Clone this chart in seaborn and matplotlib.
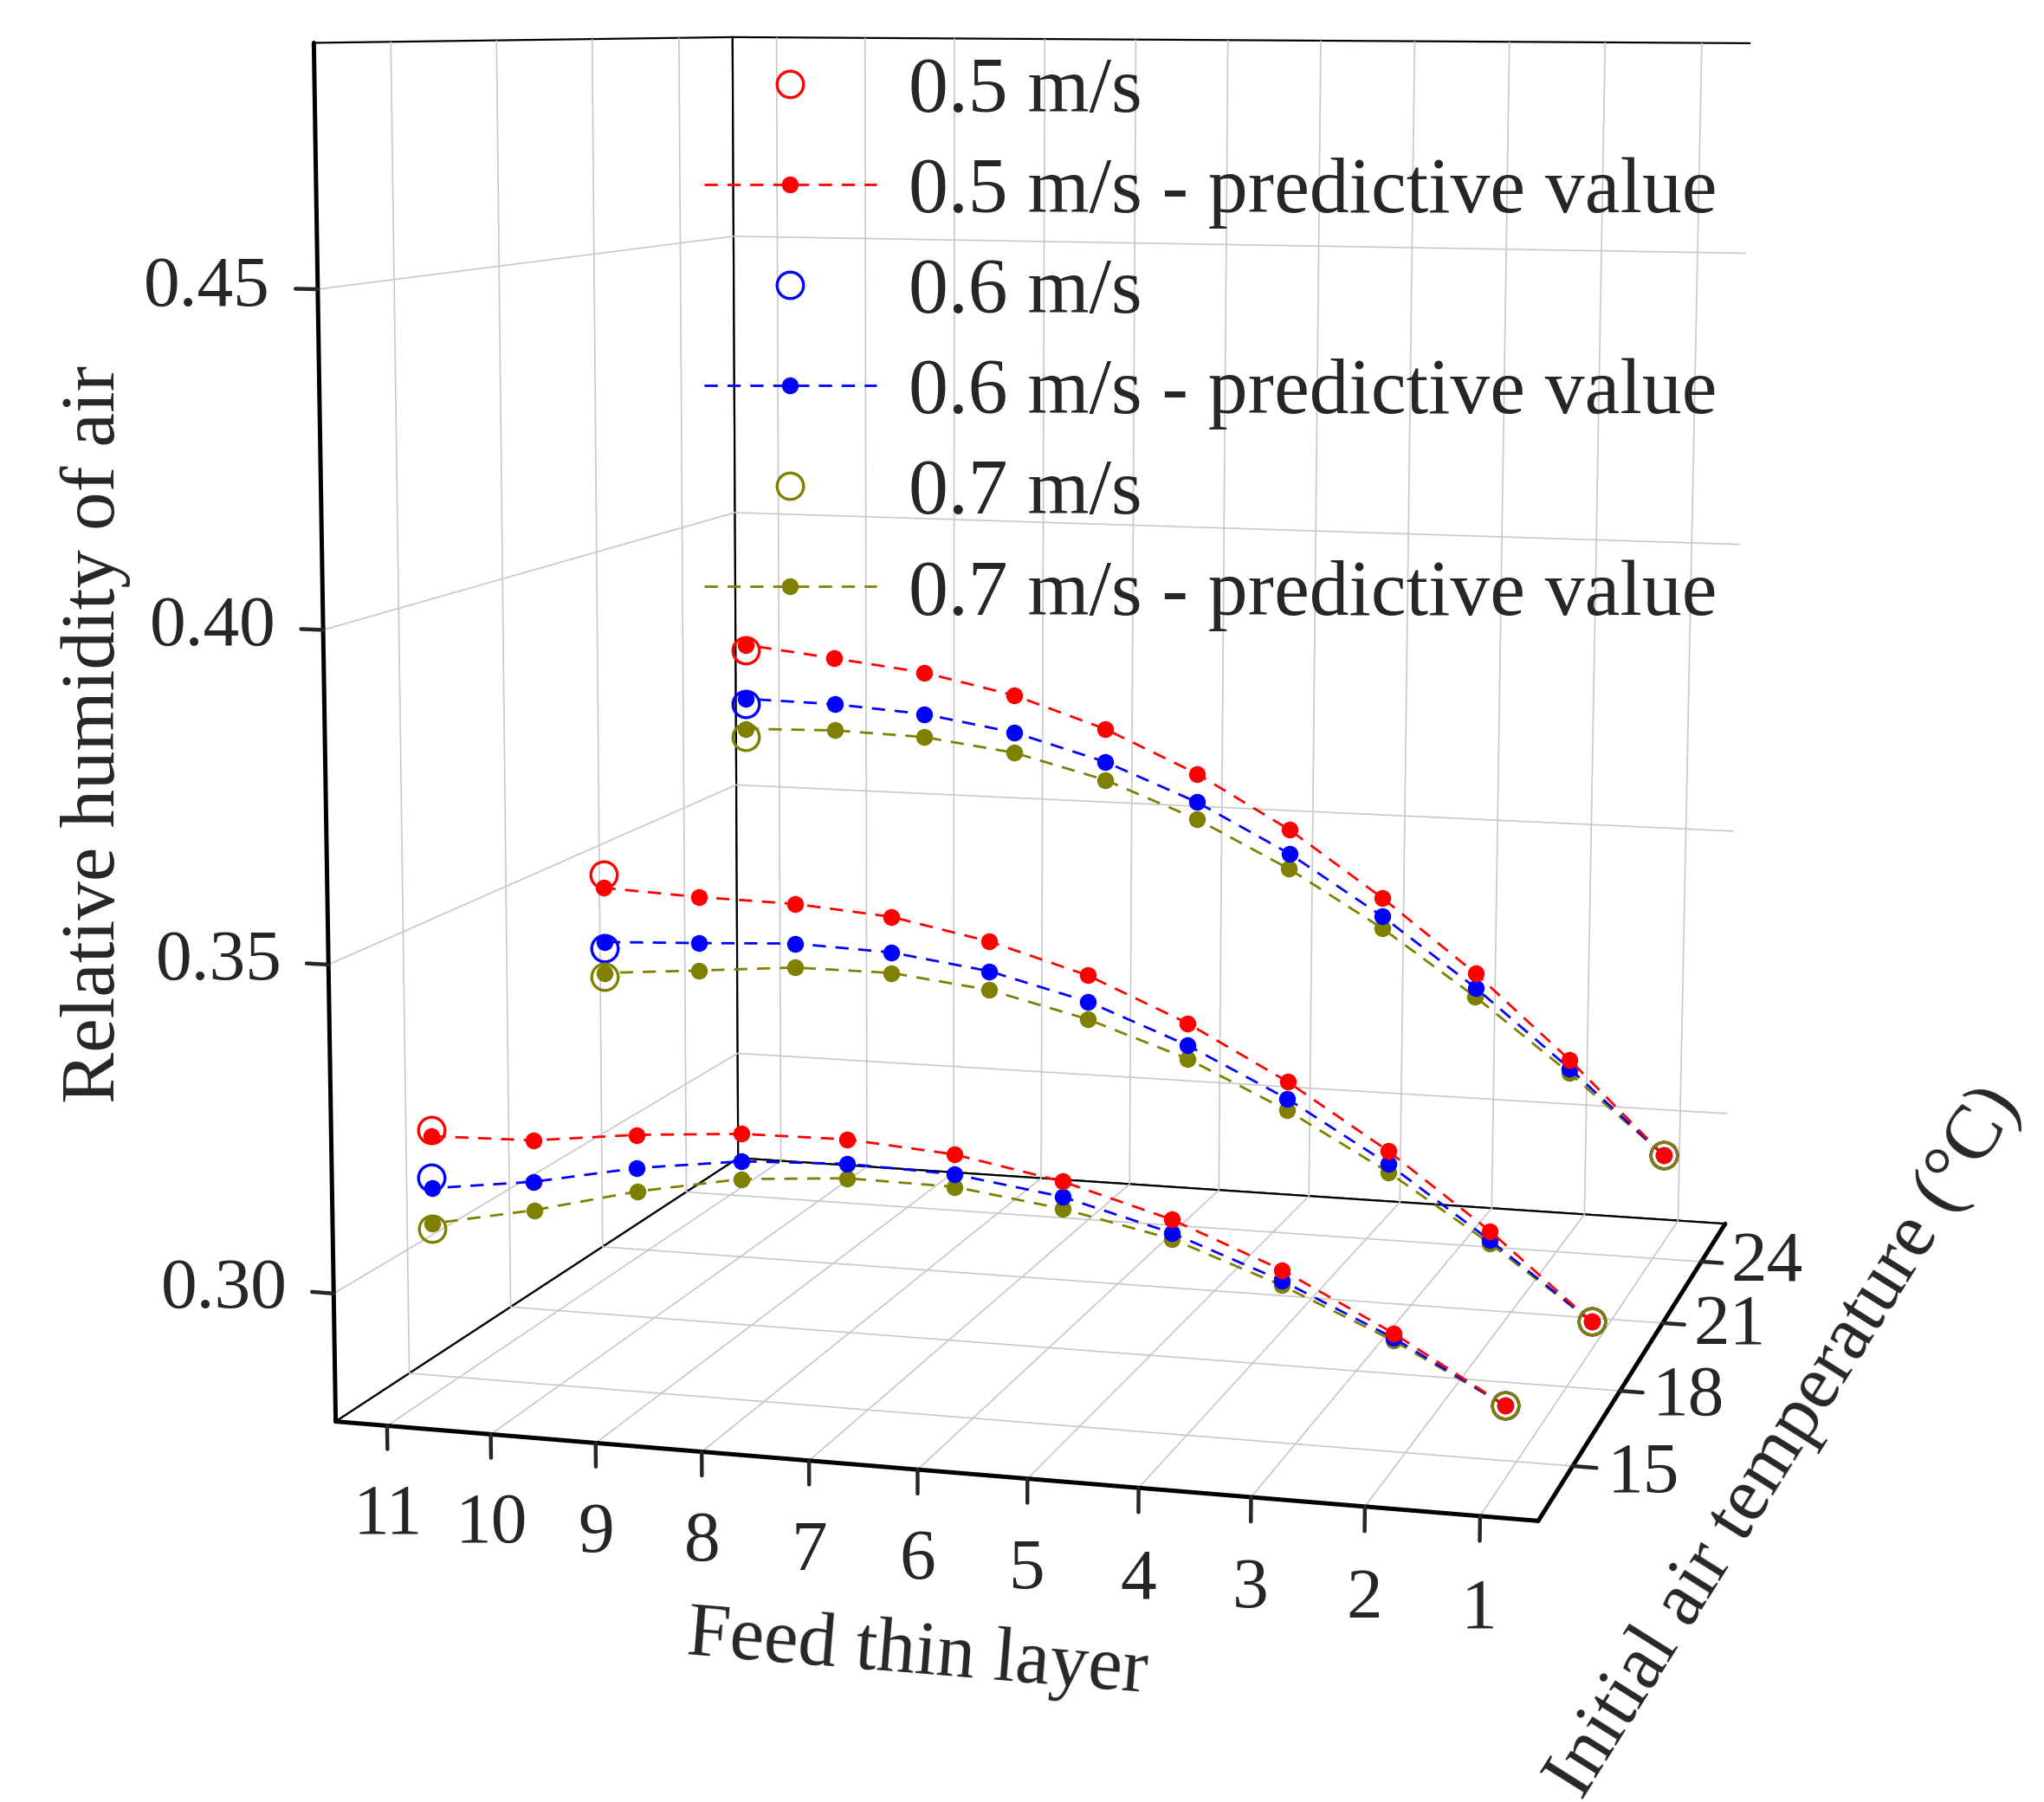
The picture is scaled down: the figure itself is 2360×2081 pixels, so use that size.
import numpy as np
import pandas as pd
import matplotlib
matplotlib.use("Agg")
import matplotlib.pyplot as plt
import seaborn as sns
from matplotlib.lines import Line2D

# --------------------------------------------
# DATA
# --------------------------------------------
LAYERS = list(range(1, 12))
TEMPS = [14.3, 19.6, 24.7]
SPEEDS = ["0.5 m/s", "0.6 m/s", "0.7 m/s"]
COLORS = ["#ff0000", "#0000ff", "#808000"]

# predictive values, layer 1 -> layer 11
PRED_T1_V05 = [0.2914, 0.3009, 0.3091, 0.3155, 0.3201, 0.3231, 0.3243, 0.3241, 0.3229, 0.3210, 0.3206]
PRED_T1_V06 = [0.2914, 0.3002, 0.3075, 0.3135, 0.3178, 0.3201, 0.3206, 0.3199, 0.3178, 0.3146, 0.3125]
PRED_T1_V07 = [0.2914, 0.2998, 0.3068, 0.3126, 0.3160, 0.3182, 0.3184, 0.3172, 0.3142, 0.3102, 0.3070]
PRED_T2_V05 = [0.2849, 0.2985, 0.3104, 0.3207, 0.3293, 0.3362, 0.3409, 0.3441, 0.3454, 0.3457, 0.3464]
PRED_T2_V06 = [0.2849, 0.2970, 0.3083, 0.3179, 0.3257, 0.3319, 0.3360, 0.3382, 0.3388, 0.3380, 0.3373]
PRED_T2_V07 = [0.2849, 0.2965, 0.3070, 0.3160, 0.3235, 0.3290, 0.3329, 0.3348, 0.3348, 0.3334, 0.3321]
PRED_T3_V05 = [0.2961, 0.3118, 0.3260, 0.3384, 0.3496, 0.3587, 0.3659, 0.3712, 0.3746, 0.3765, 0.3783]
PRED_T3_V06 = [0.2961, 0.3103, 0.3235, 0.3352, 0.3454, 0.3537, 0.3601, 0.3646, 0.3672, 0.3683, 0.3686]
PRED_T3_V07 = [0.2961, 0.3095, 0.3219, 0.3331, 0.3427, 0.3507, 0.3569, 0.3610, 0.3631, 0.3636, 0.3632]

# measured values at layer 1 and layer 11, one pair per speed
MEAS_LAYERS = [1, 11]
MEAS_T1 = [[0.2914, 0.3216], [0.2914, 0.3141], [0.2914, 0.3062]]
MEAS_T2 = [[0.2849, 0.3486], [0.2849, 0.3362], [0.2849, 0.3315]]
MEAS_T3 = [[0.2961, 0.3774], [0.2961, 0.3676], [0.2961, 0.3618]]

XLIM = (11.5, 0.5)
YLIM = (13.0, 26.0)
ZLIM = (0.2803, 0.4856)
X_TICKS = LAYERS
Y_TICKS = [15, 18, 21, 24]
Z_TICKS = [0.30, 0.35, 0.40, 0.45]

# camera, matched to the original perspective box
VIEW = dict(elev=7.646, azim=-74.766, roll=-0.245)
FOCAL = 0.5219
BOX = (1.0, 1.0052, 1.1237)
ZOOM = 1.1128
AX_RECT = [0.01983, 0.10375, 1, 1]

W, H = 2360, 2081


def build_frames():
    pred = [
        [PRED_T1_V05, PRED_T1_V06, PRED_T1_V07],
        [PRED_T2_V05, PRED_T2_V06, PRED_T2_V07],
        [PRED_T3_V05, PRED_T3_V06, PRED_T3_V07],
    ]
    meas = [MEAS_T1, MEAS_T2, MEAS_T3]
    rows_p, rows_m = [], []
    for ti, temp in enumerate(TEMPS):
        for si, speed in enumerate(SPEEDS):
            for layer, val in zip(LAYERS, pred[ti][si]):
                rows_p.append({"layer": layer, "temp": temp, "speed": speed, "rh": val})
            for layer, val in zip(MEAS_LAYERS, meas[ti][si]):
                rows_m.append({"layer": layer, "temp": temp, "speed": speed, "rh": val})
    return pd.DataFrame(rows_p), pd.DataFrame(rows_m)


def style_axes(ax):
    for axis in (ax.xaxis, ax.yaxis, ax.zaxis):
        axis.set_pane_color((1, 1, 1, 1))
        axis.pane.set_edgecolor("black")
        axis.pane.set_linewidth(0.8)

    # z axis on the front-left edge, ticks pointing outwards like Origin
    ax.zaxis.set_ticks_position("lower")
    ax.zaxis.set_label_position("lower")
    ax.xaxis._get_tickdir = lambda *args: 2
    ax.zaxis._get_tickdir = lambda *args: 0
    ax.xaxis._axinfo["tick"].update(inward_factor=0.0, outward_factor=0.22)
    ax.yaxis._axinfo["tick"].update(inward_factor=0.24, outward_factor=0.0)
    ax.zaxis._axinfo["tick"].update(inward_factor=0.0, outward_factor=0.24)
    # labels pushed straight down (x) and straight left (z)
    ax.xaxis._axmask = lambda: [False, False, True]
    ax.zaxis._axmask = lambda: [True, False, False]


def main():
    df_pred, df_meas = build_frames()

    sns.set_style("white")
    plt.rcParams["font.family"] = ["Liberation Serif", "DejaVu Serif"]
    plt.rcParams["axes.linewidth"] = 1.8
    plt.rcParams["axes.edgecolor"] = "black"
    plt.rcParams["grid.color"] = "#c8c8c8"
    plt.rcParams["grid.linewidth"] = 0.6
    plt.rcParams["grid.linestyle"] = "-"
    plt.rcParams["xtick.major.width"] = 1.6
    plt.rcParams["ytick.major.width"] = 1.6

    fig = plt.figure(figsize=(W / 200, H / 200), dpi=200)
    ax = fig.add_axes(AX_RECT, projection="3d", computed_zorder=False)
    ax.set_xlim(*XLIM)
    ax.set_ylim(*YLIM)
    ax.set_zlim(*ZLIM)
    ax.view_init(**VIEW)
    ax.set_proj_type("persp", focal_length=FOCAL)
    ax.set_box_aspect(BOX, zoom=ZOOM)
    style_axes(ax)

    # predictive lines first, measured circles on top
    for temp in TEMPS:
        for si in (2, 1, 0):
            sub = df_pred[(df_pred["temp"] == temp) & (df_pred["speed"] == SPEEDS[si])]
            ax.plot(sub["layer"], sub["temp"], sub["rh"], color=COLORS[si],
                    ls=(0, (5.5, 4)), lw=1.0, marker="o", ms=7, mew=0)
    for temp in TEMPS:
        for si in range(3):
            sub = df_meas[(df_meas["temp"] == temp) & (df_meas["speed"] == SPEEDS[si])]
            ax.plot(sub["layer"], sub["temp"], sub["rh"], ls="none", marker="o",
                    ms=11, mfc="none", mec=COLORS[si], mew=1.2)

    ax.tick_params(axis="x", labelsize=30, pad=9)
    ax.tick_params(axis="y", labelsize=30, pad=3)
    ax.tick_params(axis="z", labelsize=30, pad=8)
    ax.set_xticks(X_TICKS, labels=[str(t) for t in X_TICKS], ha="center", va="top")
    ax.set_yticks(Y_TICKS, labels=[str(t) for t in Y_TICKS], ha="left", va="bottom")
    ax.set_zticks(Z_TICKS, labels=[f"{t:.2f}" for t in Z_TICKS], ha="right", va="center")

    ax.set_xlabel("Feed thin layer", fontsize=32, labelpad=32)
    # leading spaces slide the label up along the temperature axis
    ax.set_ylabel("      Initial air temperature (°C)", fontsize=32, labelpad=18)
    ax.zaxis.set_rotate_label(False)
    ax.set_zlabel("Relative humidity of air", fontsize=32, rotation=90, labelpad=58)

    handles, labels = [], []
    for si, speed in enumerate(SPEEDS):
        handles.append(Line2D([], [], ls="none", marker="o", ms=11, mfc="none",
                              mec=COLORS[si], mew=1.2))
        labels.append(speed)
        handles.append(Line2D([], [], ls=(0, (5.5, 4)), lw=1.0, color=COLORS[si],
                              marker="o", ms=7, mew=0))
        labels.append(f"{speed} - predictive value")
    fig.legend(handles, labels, loc="upper left", bbox_to_anchor=(0.3445, 0.969),
               frameon=False, fontsize=33, handlelength=2.17, handletextpad=0.4,
               labelspacing=0.36, borderaxespad=0, borderpad=0, numpoints=1)

    fig.savefig("out.png", dpi=200)
    plt.close(fig)


if __name__ == "__main__":
    main()
